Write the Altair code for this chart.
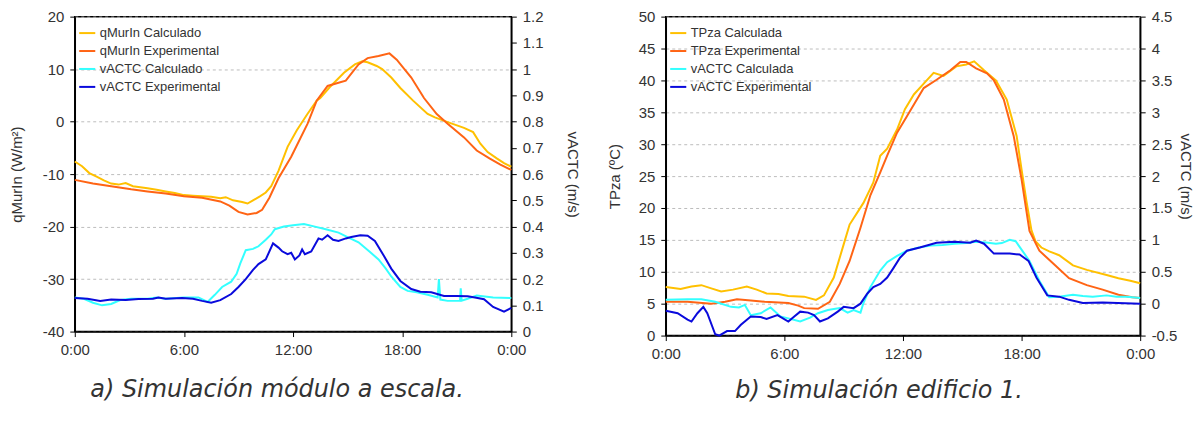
import altair as alt
import pandas as pd

# ---------------- Panel a data (hours, values) ----------------
a_names = ["qMurIn Calculado", "qMurIn Experimental", "vACTC Calculado", "vACTC Experimental"]
a_colors = ["#FFC000", "#FF6414", "#33FFFF", "#0A0ADC"]

a_qcalc_t = [0, 0.4, 0.8, 1.2, 1.6, 2.0, 2.4, 2.8, 3.2, 3.6, 4.0, 4.5, 5.0, 5.5, 6.0, 6.5, 7.0, 7.5, 8.0, 8.3, 8.7, 9.2, 9.5, 9.8, 10.2, 10.5, 10.8, 11.2, 11.7, 12.2, 12.8, 13.3, 13.5, 14.0, 14.8, 15.4, 15.8, 16.1, 16.6, 16.9, 17.4, 17.9, 18.6, 19.4, 19.8, 20.5, 21.4, 21.9, 22.3, 22.7, 23.2, 23.6, 24]
a_qcalc_v = [-7.6, -8.5, -9.8, -10.5, -11.2, -11.8, -12.0, -11.7, -12.3, -12.5, -12.7, -13.0, -13.3, -13.6, -14.0, -14.1, -14.2, -14.3, -14.6, -14.4, -15.0, -15.3, -15.6, -15.0, -14.2, -13.5, -12.3, -9.4, -4.8, -1.7, 1.5, 4.0, 4.5, 6.5, 9.3, 10.9, 11.5, 11.3, 10.6, 10.0, 8.4, 6.4, 4.0, 1.45, 0.8, -0.1, -1.2, -2.0, -4.2, -5.8, -7.0, -7.9, -8.6]

a_qexp_t = [0, 1, 2, 3.1, 4, 5, 6, 7, 8, 8.5, 9, 9.5, 10, 10.3, 10.7, 11.2, 11.9, 12.8, 13.3, 13.9, 14.5, 14.9, 15.6, 16.1, 16.7, 17.3, 17.7, 18.5, 19.2, 19.9, 20.5, 21.4, 22.1, 22.8, 23.4, 24]
a_qexp_v = [-11.1, -11.8, -12.3, -12.9, -13.3, -13.7, -14.2, -14.5, -15.2, -16.0, -17.2, -17.7, -17.4, -16.8, -14.5, -10.8, -6.7, -0.4, 4.0, 6.8, 7.4, 7.8, 10.9, 12.1, 12.5, 13.0, 11.8, 8.4, 4.5, 1.45, -0.4, -3.0, -5.5, -7.0, -8.2, -9.2]

a_vcalc_t = [0, 0.5, 1.0, 1.5, 2.0, 2.5, 3.1, 4.0, 4.5, 5.0, 6.0, 6.8, 7.3, 7.7, 8.1, 8.6, 8.9, 9.1, 9.4, 9.8, 10.1, 10.5, 10.8, 11.0, 11.5, 12.0, 12.6, 13.2, 13.8, 14.5, 15.0, 15.6, 16.2, 16.7, 17.1, 17.4, 17.9, 18.3, 18.8, 19.4, 19.95, 20.02, 20.1, 20.5, 21.18, 21.22, 21.27, 21.6, 22.1, 23.0, 24]
a_vcalc_v = [0.13, 0.125, 0.11, 0.10, 0.105, 0.12, 0.125, 0.125, 0.13, 0.125, 0.13, 0.13, 0.113, 0.14, 0.17, 0.19, 0.22, 0.26, 0.31, 0.315, 0.325, 0.35, 0.37, 0.39, 0.40, 0.405, 0.41, 0.40, 0.39, 0.377, 0.36, 0.34, 0.305, 0.275, 0.24, 0.21, 0.17, 0.155, 0.15, 0.14, 0.13, 0.20, 0.122, 0.117, 0.117, 0.165, 0.118, 0.125, 0.137, 0.13, 0.128]

a_vexp_t = [0, 0.7, 1.4, 2.0, 2.8, 3.5, 4.3, 4.6, 5.0, 5.9, 6.5, 7.0, 7.5, 8.0, 8.6, 9.0, 9.4, 9.8, 10.1, 10.5, 10.9, 11.2, 11.4, 11.7, 11.9, 12.1, 12.35, 12.5, 12.65, 13.0, 13.4, 13.6, 13.9, 14.2, 14.5, 14.9, 15.2, 15.7, 16.1, 16.5, 17.0, 17.4, 17.9, 18.5, 19.0, 19.6, 20.3, 21.0, 21.6, 22.0, 22.5, 23.0, 23.6, 24]
a_vexp_v = [0.128, 0.125, 0.117, 0.122, 0.12, 0.124, 0.125, 0.13, 0.125, 0.128, 0.125, 0.117, 0.11, 0.12, 0.143, 0.17, 0.20, 0.235, 0.257, 0.275, 0.336, 0.32, 0.306, 0.295, 0.30, 0.275, 0.29, 0.313, 0.295, 0.305, 0.355, 0.35, 0.367, 0.35, 0.345, 0.355, 0.36, 0.367, 0.365, 0.345, 0.288, 0.24, 0.193, 0.162, 0.152, 0.15, 0.136, 0.136, 0.135, 0.13, 0.123, 0.094, 0.076, 0.09]

# ---------------- Panel b data ----------------
b_names = ["TPza Calculada", "TPza Experimental", "vACTC Calculada", "vACTC Experimental"]
b_colors = ["#FFC000", "#FF6414", "#33FFFF", "#0A0ADC"]

b_tcalc_t = [0, 0.75, 1.3, 1.8, 2.3, 2.8, 3.4, 4.1, 4.6, 5.1, 5.7, 6.2, 7.0, 7.6, 8.0, 8.5, 9.0, 9.3, 10.0, 10.5, 10.85, 11.2, 11.7, 12.1, 12.55, 13.05, 13.55, 14.05, 14.7, 15.2, 15.6, 16.1, 16.7, 17.25, 17.75, 18.0, 18.25, 18.5, 18.7, 19.0, 19.4, 19.9, 20.6, 21.3, 22.3, 22.9, 23.5, 24]
b_tcalc_v = [7.6, 7.3, 7.7, 7.9, 7.4, 6.9, 7.2, 7.7, 7.2, 6.6, 6.5, 6.2, 6.1, 5.6, 6.3, 9.1, 14.3, 17.4, 20.8, 24.0, 28.2, 29.3, 32.3, 35.5, 37.8, 39.5, 41.2, 40.7, 42.2, 42.5, 43.0, 41.6, 40.0, 37.0, 31.3, 26.0, 21.0, 16.5, 14.8, 13.8, 13.2, 12.6, 11.0, 10.3, 9.5, 9.0, 8.6, 8.2]

b_texp_t = [0, 1.1, 2.3, 3.0, 3.6, 4.3, 5.0, 6.2, 6.7, 7.0, 7.7, 8.3, 8.8, 9.3, 9.85, 10.35, 10.85, 11.2, 11.7, 12.2, 13.05, 13.7, 14.4, 14.9, 15.2, 15.7, 16.25, 16.6, 17.1, 17.6, 18.0, 18.4, 18.9, 19.6, 20.4, 21.3, 22.1, 22.9, 23.6, 24]
b_texp_v = [5.3, 5.3, 5.0, 5.3, 5.7, 5.5, 5.3, 5.1, 4.7, 4.3, 4.2, 5.3, 8.1, 11.7, 16.9, 22.0, 25.6, 28.2, 31.8, 34.4, 38.8, 40.1, 41.6, 42.9, 42.9, 41.9, 41.1, 40.0, 37.0, 31.3, 24.5, 16.4, 13.3, 11.3, 9.0, 7.9, 7.2, 6.4, 6.0, 5.9]

b_vcalc_t = [0, 1.1, 1.8, 2.5, 3.3, 3.7, 4.0, 4.3, 4.8, 5.3, 5.8, 6.2, 6.8, 7.3, 7.7, 8.2, 8.8, 9.2, 9.5, 9.85, 10.0, 10.35, 10.85, 11.2, 11.7, 12.2, 12.8, 13.4, 14.0, 14.6, 15.2, 15.7, 16.2, 16.7, 17.0, 17.4, 17.7, 17.9, 18.4, 18.9, 19.4, 19.9, 20.6, 21.1, 21.6, 22.3, 22.8, 23.3, 24]
b_vcalc_v = [0.06, 0.07, 0.07, 0.03, -0.05, -0.06, -0.02, -0.18, -0.15, -0.06, -0.20, -0.23, -0.28, -0.22, -0.15, -0.10, -0.07, -0.14, -0.10, -0.14, 0.01, 0.26, 0.52, 0.65, 0.75, 0.83, 0.88, 0.91, 0.92, 0.94, 0.95, 0.97, 0.96, 0.94, 0.95, 1.0, 0.98, 0.89, 0.67, 0.36, 0.10, 0.11, 0.14, 0.12, 0.11, 0.13, 0.11, 0.11, 0.09]

b_vexp_t = [0, 0.6, 1.1, 1.3, 1.6, 1.9, 2.1, 2.5, 2.7, 3.1, 3.5, 3.8, 4.3, 4.8, 5.1, 5.65, 6.2, 6.5, 6.8, 7.2, 7.5, 7.8, 8.2, 8.7, 9.0, 9.5, 9.85, 10.2, 10.5, 10.85, 11.2, 11.5, 11.85, 12.2, 12.85, 13.7, 14.6, 15.4, 15.7, 16.1, 16.6, 17.4, 17.9, 18.35, 18.75, 19.3, 19.9, 20.4, 21.1, 22.1, 24]
b_vexp_v = [-0.11, -0.15, -0.25, -0.28, -0.15, -0.05, -0.15, -0.48, -0.50, -0.43, -0.43, -0.33, -0.20, -0.21, -0.24, -0.18, -0.28, -0.20, -0.125, -0.14, -0.18, -0.28, -0.23, -0.125, -0.05, -0.07, 0.0, 0.16, 0.26, 0.31, 0.41, 0.55, 0.72, 0.83, 0.88, 0.955, 0.97, 0.955, 0.99, 0.94, 0.785, 0.785, 0.77, 0.67, 0.41, 0.13, 0.11, 0.06, 0.01, 0.02, 0.0]

# ---------------- tick values / captions ----------------
time_ticks = [0, 6, 12, 18, 24]
a_left_ticks = [-40, -30, -20, -10, 0, 10, 20]
a_right_ticks = [0, 0.1, 0.2, 0.3, 0.4, 0.5, 0.6, 0.7, 0.8, 0.9, 1.0, 1.1, 1.2]
b_left_ticks = [0, 5, 10, 15, 20, 25, 30, 35, 40, 45, 50]
b_right_ticks = [-0.5, 0, 0.5, 1.0, 1.5, 2.0, 2.5, 3.0, 3.5, 4.0, 4.5]
cap_a = "a) Simulación módulo a escala."
cap_b = "b) Simulación edificio 1."

FONT = "Liberation Sans"
TXT = "#333333"


def frame(series, ts, vs):
    return pd.DataFrame({"series": series, "t": ts, "v": vs})


def panel(left_df, right_df, names, colors, ldom, rdom, lticks, rticks,
          ltitle, rtitle, caption, w, h, dx, ltp, rtp, cap_off):
    color = alt.Color(
        "series:N",
        scale=alt.Scale(domain=names, range=colors),
        legend=alt.Legend(
            orient="none", legendX=3, legendY=7, title=None, symbolType="stroke",
            symbolStrokeWidth=2, symbolSize=260, labelFontSize=13,
            labelFont=FONT, labelColor=TXT, rowPadding=1,
            padding=0, labelOffset=3,
        ),
    )
    x = alt.X(
        "t:Q",
        scale=alt.Scale(domain=[0, 24], nice=False, zero=False),
        axis=alt.Axis(
            values=time_ticks, title=None, grid=False, labelFlush=False,
            labelExpr="datum.value == 24 ? '0:00' : datum.value + ':00'",
        ),
    )
    left = alt.Chart(left_df).mark_line(strokeWidth=2).encode(
        x=x,
        y=alt.Y(
            "v:Q",
            scale=alt.Scale(domain=ldom, nice=False, zero=False),
            axis=alt.Axis(
                orient="left", values=lticks, title=ltitle,
                labelExpr="toString(datum.value)",
                grid=True, gridDash=[3, 3], gridColor="#bdbdbd",
                titlePadding=ltp,
            ),
        ),
        color=color,
        order=alt.Order("t:Q"),
    )
    right = alt.Chart(right_df).mark_line(strokeWidth=2).encode(
        x=x,
        y=alt.Y(
            "v:Q",
            scale=alt.Scale(domain=rdom, nice=False, zero=False),
            axis=alt.Axis(
                orient="right", values=rticks, title=rtitle,
                labelExpr="toString(round(datum.value*10)/10)",
                grid=False, titlePadding=rtp,
            ),
        ),
        color=color,
        order=alt.Order("t:Q"),
    )
    return (
        alt.layer(left, right)
        .resolve_scale(y="independent")
        .properties(
            width=w, height=h,
            title=alt.TitleParams(
                caption, orient="bottom", anchor="middle", dx=dx,
                font="DejaVu Sans", fontStyle="italic", fontSize=24,
                fontWeight="normal", color=TXT, offset=cap_off,
            ),
        )
    )


a_left = pd.concat([frame(a_names[0], a_qcalc_t, a_qcalc_v), frame(a_names[1], a_qexp_t, a_qexp_v)])
a_right = pd.concat([frame(a_names[2], a_vcalc_t, a_vcalc_v), frame(a_names[3], a_vexp_t, a_vexp_v)])
b_left = pd.concat([frame(b_names[0], b_tcalc_t, b_tcalc_v), frame(b_names[1], b_texp_t, b_texp_v)])
b_right = pd.concat([frame(b_names[2], b_vcalc_t, b_vcalc_v), frame(b_names[3], b_vexp_t, b_vexp_v)])

pa = panel(a_left, a_right, a_names, a_colors, [-40, 20], [0, 1.2], a_left_ticks, a_right_ticks,
           "qMurIn (W/m²)", "vACTC (m/s)", cap_a, 438, 316, -16, 18, 22, 21)
pb = panel(b_left, b_right, b_names, b_colors, [0, 50], [-0.5, 4.5], b_left_ticks, b_right_ticks,
           "TPza (ºC)", "vACTC (m/s)", cap_b, 476, 320, -24, 16, 1, 18)

chart = (
    alt.hconcat(pa, pb, spacing=25)
    .resolve_scale(color="independent")
    .properties(padding={"left": 0, "top": 0, "right": 0, "bottom": 0})
    .configure(background="white")
    .configure_view(stroke="black", strokeWidth=1.5)
    .configure_axis(
        labelFont=FONT, labelFontSize=15, labelColor=TXT,
        titleFont=FONT, titleFontSize=15, titleColor=TXT, titleFontWeight="normal",
        domainColor="black", domainWidth=1.5, tickColor="black", tickSize=5,
        labelPadding=6,
    )
)

chart.save("out.html", embed_options={"renderer": "svg", "actions": False})
